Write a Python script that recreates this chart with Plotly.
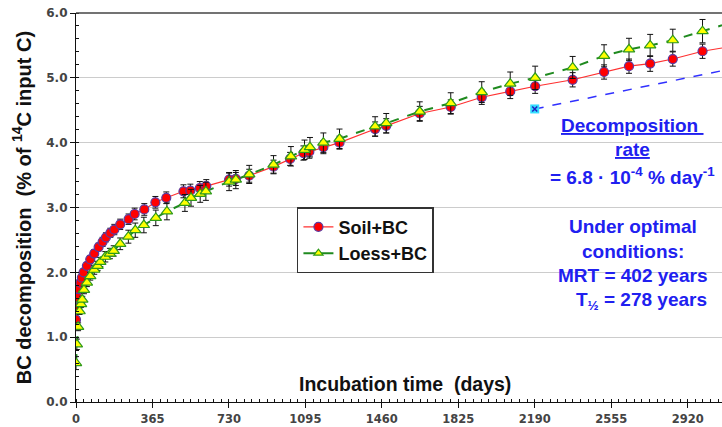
import plotly.graph_objects as go

# ---------------- data ----------------
soil_days = [0, 1, 7, 14, 21, 28, 36, 52, 68, 87,
             108, 127, 143, 164, 183, 211, 251, 280, 326, 379,
             431, 513, 546, 591, 622, 731, 763, 827, 943, 1022,
             1086, 1114, 1181, 1258, 1428, 1481, 1641, 1789, 1937, 2073,
             2192, 2371, 2521, 2640, 2741, 2849, 2991]
soil_vals = [1.27, 1.45, 1.61, 1.74, 1.84, 1.92, 2.00, 2.10, 2.20, 2.29,
             2.39, 2.47, 2.54, 2.61, 2.66, 2.74, 2.82, 2.90, 2.97, 3.08,
             3.15, 3.25, 3.26, 3.30, 3.33, 3.43, 3.44, 3.49, 3.63, 3.75,
             3.84, 3.86, 3.93, 4.00, 4.21, 4.26, 4.45, 4.55, 4.70, 4.79,
             4.87, 4.97, 5.09, 5.18, 5.22, 5.29, 5.41]
soil_err = [0.03, 0.03, 0.04, 0.04, 0.05, 0.05, 0.05, 0.05, 0.06, 0.06,
            0.06, 0.07, 0.07, 0.07, 0.08, 0.08, 0.08, 0.09, 0.09, 0.09,
            0.09, 0.10, 0.10, 0.10, 0.10, 0.10, 0.10, 0.10, 0.10, 0.10,
            0.11, 0.10, 0.10, 0.10, 0.11, 0.11, 0.11, 0.11, 0.11, 0.11,
            0.11, 0.11, 0.11, 0.11, 0.12, 0.11, 0.11]

loess_days = [0, 4, 10, 17, 24, 30, 38, 52, 68, 87,
              103, 116, 140, 162, 180, 211, 250, 283, 324, 381,
              434, 520, 549, 593, 620, 731, 763, 827, 943, 1026,
              1091, 1117, 1181, 1258, 1428, 1481, 1641, 1789, 1937, 2073,
              2192, 2371, 2521, 2640, 2741, 2849, 2991]
loess_vals = [0.60, 0.89, 1.16, 1.40, 1.51, 1.58, 1.73, 1.84, 1.94, 2.04,
              2.10, 2.16, 2.24, 2.29, 2.33, 2.44, 2.55, 2.65, 2.73, 2.84,
              2.94, 3.07, 3.15, 3.21, 3.25, 3.40, 3.43, 3.51, 3.66, 3.79,
              3.89, 3.93, 4.00, 4.06, 4.25, 4.30, 4.48, 4.61, 4.78, 4.91,
              5.00, 5.16, 5.34, 5.44, 5.50, 5.58, 5.72]
loess_err = [0.10, 0.08, 0.06, 0.05, 0.05, 0.05, 0.06, 0.06, 0.06, 0.07,
             0.07, 0.07, 0.08, 0.08, 0.08, 0.09, 0.10, 0.11, 0.12, 0.12,
             0.13, 0.13, 0.13, 0.13, 0.14, 0.14, 0.14, 0.14, 0.14, 0.15,
             0.15, 0.15, 0.15, 0.15, 0.15, 0.15, 0.15, 0.16, 0.16, 0.18,
             0.18, 0.17, 0.17, 0.17, 0.17, 0.17, 0.18]

# fitted-line continuation to the right edge of the axis
line_end_day = 3084
soil_line_end = 5.46
loess_line_end = 5.81

# long-term decomposition rate line
rate_days = [2190, 3084]
rate_vals = [4.52, 5.11]

x_ticks = [0, 365, 730, 1095, 1460, 1825, 2190, 2555, 2920]
y_ticks = [0.0, 1.0, 2.0, 3.0, 4.0, 5.0, 6.0]

BLUE = "#2020f0"
FONT = "Liberation Sans"

fig = go.Figure()

# lines (drawn beneath markers)
fig.add_trace(go.Scatter(
    x=soil_days + [line_end_day], y=soil_vals + [soil_line_end],
    mode="lines", line=dict(color="#ff3030", width=1.2),
    showlegend=False, hoverinfo="skip"))
fig.add_trace(go.Scatter(
    x=loess_days + [line_end_day], y=loess_vals + [loess_line_end],
    mode="lines", line=dict(color="#1f8a1f", width=2, dash="dash"),
    showlegend=False, hoverinfo="skip"))

# markers + error bars
fig.add_trace(go.Scatter(
    x=soil_days, y=soil_vals, mode="markers", name="Soil+BC",
    marker=dict(symbol="circle", size=9, color="#ff0000",
                line=dict(color="#5b3aa0", width=1.2)),
    error_y=dict(type="data", array=soil_err, visible=True,
                 color="#111111", thickness=1, width=3),
    showlegend=False))
fig.add_trace(go.Scatter(
    x=loess_days, y=loess_vals, mode="markers", name="Loess+BC",
    marker=dict(symbol="triangle-up", size=10, color="#ffff00",
                line=dict(color="#2e9a1a", width=1.2)),
    error_y=dict(type="data", array=loess_err, visible=True,
                 color="#111111", thickness=1, width=3),
    showlegend=False))

# legend entries
fig.add_trace(go.Scatter(
    x=[None], y=[None], mode="lines+markers", name="<b>Soil+BC</b>",
    line=dict(color="#ff3030", width=1.2),
    marker=dict(symbol="circle", size=9, color="#ff0000",
                line=dict(color="#5b3aa0", width=1.2))))
fig.add_trace(go.Scatter(
    x=[None], y=[None], mode="lines+markers", name="<b>Loess+BC</b>",
    line=dict(color="#1f8a1f", width=2),
    marker=dict(symbol="triangle-up", size=8, color="#ffff00",
                line=dict(color="#2e9a1a", width=1.2))))

# decomposition-rate line and its start marker
fig.add_trace(go.Scatter(
    x=rate_days, y=rate_vals, mode="lines",
    line=dict(color="#3030ff", width=1.5, dash="dash"),
    showlegend=False, hoverinfo="skip"))
fig.add_trace(go.Scatter(
    x=rate_days[:1], y=rate_vals[:1], mode="markers",
    marker=dict(symbol="square", size=9, color="#33ddff",
                line=dict(width=0)),
    showlegend=False, hoverinfo="skip"))
fig.add_trace(go.Scatter(
    x=rate_days[:1], y=rate_vals[:1], mode="markers",
    marker=dict(symbol="x-thin", size=5,
                line=dict(color="#2020c0", width=1.5)),
    showlegend=False, hoverinfo="skip"))

fig.update_layout(
    width=722, height=427,
    margin=dict(l=76, r=0, t=13, b=25, autoexpand=False),
    paper_bgcolor="white", plot_bgcolor="white",
    font=dict(family=FONT, color="#111111"),
    legend=dict(x=0.342, y=0.501, xanchor="left", yanchor="top",
                bordercolor="#333333", borderwidth=1.5, bgcolor="white",
                font=dict(family=FONT, size=18, color="#111111"),
                itemwidth=30, tracegroupgap=4),
    showlegend=True,
)

fig.update_xaxes(
    range=[0, line_end_day], tickmode="array", tickvals=x_ticks,
    ticktext=[str(v) for v in x_ticks], automargin=False,
    showgrid=False, zeroline=False,
    showline=True, linecolor="#111111", linewidth=1.2,
    ticks="outside", ticklen=5, tickcolor="#111111", tickwidth=1,
    ticklabelstandoff=1,
    tickfont=dict(family="DejaVu Sans", size=11.5, color="#444444", weight="bold"),
    minor=dict(tickmode="linear", tick0=0, dtick=36.5, ticks="inside",
               ticklen=3, tickcolor="#111111", tickwidth=1, showgrid=False),
)
fig.update_yaxes(
    range=[0, 6], tickmode="array", tickvals=y_ticks,
    ticktext=[f"{v:.1f}" for v in y_ticks], automargin=False,
    showgrid=True, gridcolor="#cccccc", gridwidth=1.2, zeroline=False,
    showline=True, linecolor="#111111", linewidth=1.2,
    ticks="outside", ticklen=5, tickcolor="#111111", tickwidth=1,
    tickfont=dict(family="DejaVu Sans", size=12, color="#444444", weight="bold"),
    minor=dict(tickmode="linear", tick0=0, dtick=0.2, ticks="inside",
               ticklen=3, tickcolor="#111111", tickwidth=1, showgrid=False),
)

# top frame line
fig.add_shape(type="line", xref="paper", yref="paper", x0=0, x1=1, y0=1, y1=1,
              line=dict(color="#444444", width=1.5))

# axis titles
fig.add_annotation(xref="paper", yref="paper", x=-0.084, y=0.5,
                   text="<b>BC decomposition\u00a0 (% of <sup>14</sup>C input C)</b>",
                   textangle=-90, showarrow=False, xanchor="center", yanchor="middle",
                   font=dict(family=FONT, size=20, color="#111111"))
fig.add_annotation(xref="paper", yref="paper", x=0.509, y=0.046,
                   text="<b>Incubation time\u00a0 (days)</b>",
                   showarrow=False, xanchor="center", yanchor="middle",
                   font=dict(family=FONT, size=19.5, color="#111111"))

# blue text block
text_lines = [
    ("<b><u>Decomposition\u00a0</u></b>", 0.862, 0.712),
    ("<b><u>rate</u></b>", 0.862, 0.648),
    ("<b>= 6.8 · 10<sup>-4</sup> % day<sup>-1</sup></b>", 0.862, 0.581),
    ("<b>Under optimal</b>", 0.862, 0.452),
    ("<b>conditions:</b>", 0.862, 0.388),
    ("<b>MRT = 402 years</b>", 0.862, 0.326),
    ("<b>T<sub>½</sub> = 278 years</b>", 0.875, 0.260),
]
for txt, xx, yy in text_lines:
    fig.add_annotation(xref="paper", yref="paper", x=xx, y=yy, text=txt,
                       showarrow=False, xanchor="center", yanchor="middle",
                       font=dict(family=FONT, size=19, color=BLUE))

fig.write_html("out.html")
